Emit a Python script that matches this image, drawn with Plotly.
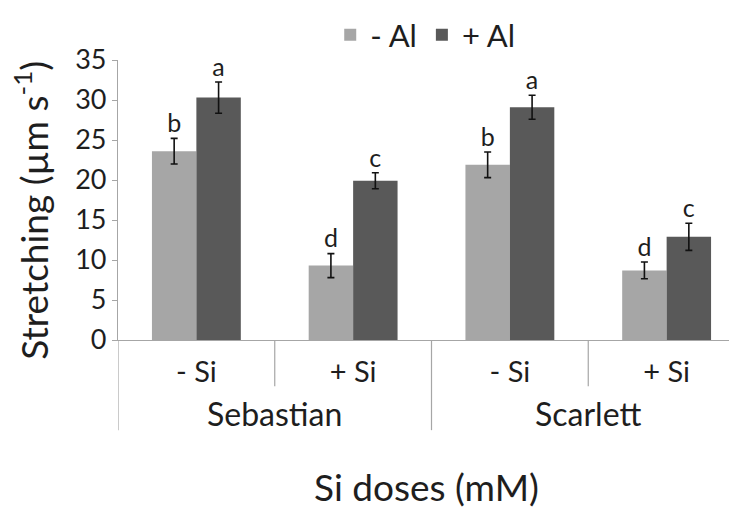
import plotly.graph_objects as go

# ---- data ----
groups = ["Sebastian", "Sebastian", "Scarlett", "Scarlett"]
sub_labels = ["- Si", "+ Si", "- Si", "+ Si"]
series_names = ["- Al", "+ Al"]
minus_al = [23.6, 9.3, 21.9, 8.7]
plus_al = [30.3, 19.9, 29.1, 12.9]
minus_al_err = [1.6, 1.5, 1.6, 1.05]
plus_al_err = [1.95, 1.0, 1.5, 1.7]
minus_al_letters = ["b", "d", "b", "d"]
plus_al_letters = ["a", "c", "a", "c"]
group_names = ["Sebastian", "Scarlett"]
y_ticks = [0, 5, 10, 15, 20, 25, 30, 35]

# ---- style ----
FONT = "Lato"
TXT = "#1e1e1e"
LIGHT = "#a6a6a6"
DARK = "#595959"
AXIS = "#a6a6a6"
BARGAP = 0.433

idx = list(range(len(sub_labels)))
bw = (1 - BARGAP) / 2

fig = go.Figure()
for name, vals, errs, col in [
    (series_names[0], minus_al, minus_al_err, LIGHT),
    (series_names[1], plus_al, plus_al_err, DARK),
]:
    fig.add_trace(go.Bar(
        x=idx, y=vals, name=name, marker=dict(color=col, line=dict(width=0)),
        error_y=dict(type="data", array=errs, visible=True, color="#111111",
                     thickness=1.6, width=3.5),
    ))

for letters, vals, errs, sign in [
    (minus_al_letters, minus_al, minus_al_err, -1),
    (plus_al_letters, plus_al, plus_al_err, 1),
]:
    fig.add_trace(go.Scatter(
        x=[i + sign * bw / 2 for i in idx],
        y=[v + e for v, e in zip(vals, errs)],
        mode="text", text=letters, textposition="top center",
        textfont=dict(family=FONT, size=25, color=TXT),
        showlegend=False, hoverinfo="skip", cliponaxis=False,
    ))

# group labels
for g in group_names:
    pos = [i for i, gg in zip(idx, groups) if gg == g]
    fig.add_annotation(x=sum(pos) / len(pos), xref="x", y=-0.2625, yref="paper",
                       text=g, showarrow=False, yanchor="middle",
                       font=dict(family=FONT, size=32, color=TXT))

# divider lines
for i in idx:
    is_group_start = (i == 0) or (groups[i] != groups[i - 1])
    fig.add_shape(type="line", xref="x", yref="paper", x0=i - 0.5, x1=i - 0.5,
                  y0=0, y1=-0.322 if is_group_start else -0.165,
                  line=dict(color=AXIS, width=1.2))

# axis titles
fig.add_annotation(x=0.492, xref="paper", y=-0.5215, yref="paper",
                   text="Si doses (mM)", showarrow=False, yanchor="middle",
                   font=dict(family=FONT, size=37, color=TXT))
fig.add_annotation(x=-0.1388, xref="paper", y=0.4655, yref="paper",
                   text="Stretching (µm s<sup>-1</sup>)", showarrow=False,
                   textangle=-90, xanchor="center", yanchor="middle",
                   font=dict(family=FONT, size=37, color=TXT))

fig.update_layout(
    width=737, height=513,
    margin=dict(l=110, r=0, t=46, b=181),
    paper_bgcolor="white", plot_bgcolor="white",
    barmode="group", bargap=BARGAP, bargroupgap=0,
    showlegend=True,
    legend=dict(orientation="h", x=0.49, xanchor="center", y=1.089, yanchor="middle",
                font=dict(family=FONT, size=31, color=TXT), bgcolor="rgba(0,0,0,0)",
                itemwidth=30, tracegroupgap=0),
    font=dict(family=FONT, color=TXT),
    xaxis=dict(range=[-0.5, 3.5], tickvals=idx, ticktext=sub_labels,
               showline=True, linecolor=AXIS, linewidth=1.2, ticks="",
               showgrid=False, zeroline=False, ticklabelstandoff=6,
               tickfont=dict(family=FONT, size=29, color=TXT), fixedrange=True),
    yaxis=dict(range=[0, 35], tickvals=y_ticks, showline=True, linecolor=AXIS,
               linewidth=1.2, ticks="outside", ticklen=5, tickcolor=AXIS, tickwidth=1.2,
               showgrid=False, zeroline=False,
               tickfont=dict(family=FONT, size=27, color=TXT), ticklabelstandoff=0),
)

fig.write_html("out.html")
